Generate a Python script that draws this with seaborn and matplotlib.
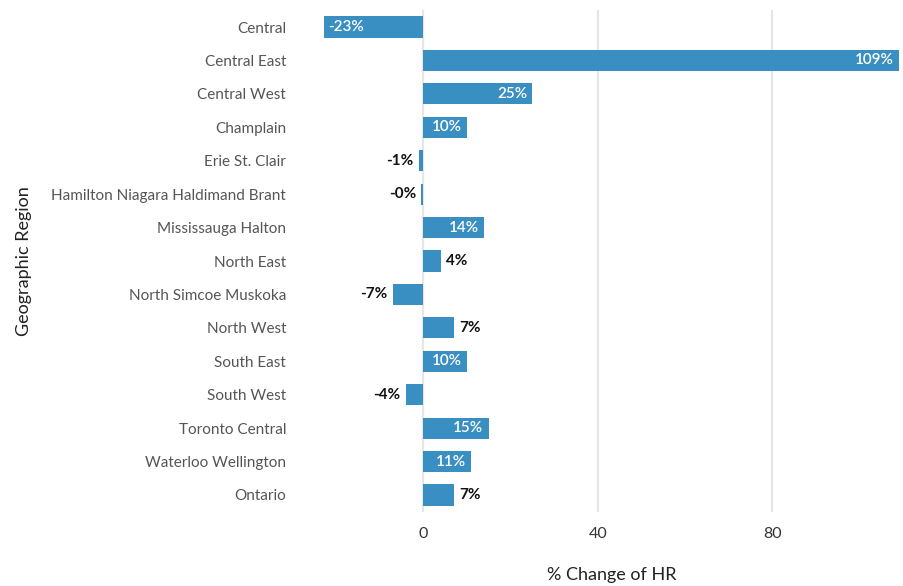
import matplotlib
matplotlib.use("Agg")
import matplotlib.pyplot as plt
import seaborn as sns
import pandas as pd

regions = [
    "Central", "Central East", "Central West", "Champlain", "Erie St. Clair",
    "Hamilton Niagara Haldimand Brant", "Mississauga Halton", "North East",
    "North Simcoe Muskoka", "North West", "South East", "South West",
    "Toronto Central", "Waterloo Wellington", "Ontario",
]
pct_change = [-23, 109, 25, 10, -1, -0.4, 14, 4, -7, 7, 10, -4, 15, 11, 7]
x_ticks = [0, 40, 80]

df = pd.DataFrame({"region": regions, "change": pct_change})

sns.set_theme(style="white")
plt.rcParams["font.family"] = ["Lato", "DejaVu Sans"]

bar_color = "#3a8fc2"
fig = plt.figure(figsize=(9.04, 5.86), dpi=100)
ax = fig.add_axes([0.358, 0.1268, 0.638, 0.8556])

sns.barplot(data=df, y="region", x="change", orient="h", color=bar_color,
            saturation=1, width=0.63, ax=ax, edgecolor="none")

ax.set_xlim(-22.8, 109.3)
ax.set_xticks(x_ticks)
ax.set_xticklabels([str(t) for t in x_ticks])
for t in x_ticks:
    ax.axvline(t, color="#e6e6e6", lw=1.6, zorder=0)
ax.set_axisbelow(True)

for s in ax.spines.values():
    s.set_visible(False)

ax.tick_params(axis="y", length=0, pad=27, labelsize=11, labelcolor="#555555")
ax.tick_params(axis="x", length=0, pad=11, labelsize=11.5, labelcolor="#333333")

ax.set_xlabel("% Change of HR", fontsize=13, color="#222222", labelpad=19)
ax.set_ylabel("Geographic Region", fontsize=13, color="#222222", labelpad=14)

# value labels: inside the bar end when it fits, otherwise just outside
for i, v in enumerate(pct_change):
    label = f"{v:.0f}%"
    if abs(v) >= 9.5:
        if v > 0:
            ax.text(v - 1.2, i, label, ha="right", va="center", color="white",
                    fontsize=11, fontweight="semibold")
        else:
            ax.text(v + 1.2, i, label, ha="left", va="center", color="white",
                    fontsize=11, fontweight="semibold")
    else:
        if v >= 0:
            ax.text(v + 1.2, i, label, ha="left", va="center", color="#111111",
                    fontsize=11, fontweight="bold")
        else:
            ax.text(v - 1.2, i, label, ha="right", va="center", color="#111111",
                    fontsize=11, fontweight="bold")

fig.savefig("out.png", dpi=100)
